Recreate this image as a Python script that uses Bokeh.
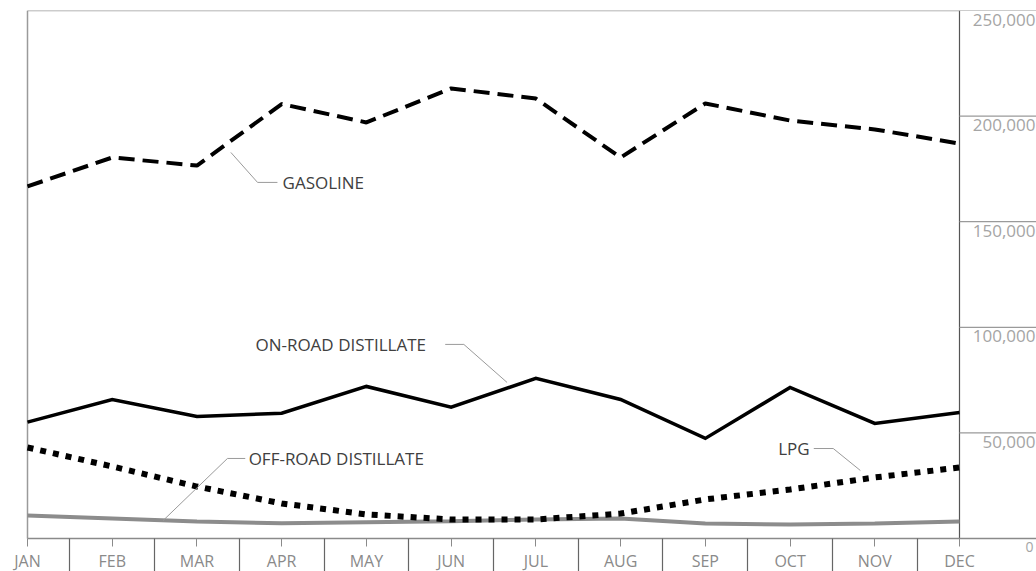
from bokeh.plotting import figure
from bokeh.models import (Range1d, FixedTicker, Label, LabelSet, ColumnDataSource)
from bokeh.core.properties import value
from bokeh.embed import file_html
from bokeh.resources import INLINE

# ---- data ----
months = ["JAN", "FEB", "MAR", "APR", "MAY", "JUN", "JUL", "AUG", "SEP", "OCT", "NOV", "DEC"]
gasoline = [166700, 180400, 176600, 205700, 197000, 213100, 208300, 180400, 206000, 197900, 193700, 187000]
on_road = [55100, 65800, 57800, 59300, 72000, 62200, 75800, 65800, 47400, 71500, 54500, 59700]
lpg = [43100, 34100, 24600, 16600, 11400, 9000, 9000, 11800, 18500, 23200, 28900, 33600]
off_road = [10900, 9500, 8000, 7200, 7700, 8200, 9000, 9500, 7100, 6600, 7100, 8000]
y_ticks = [0, 50000, 100000, 150000, 200000, 250000]
y_tick_labels = ["0", "50,000", "100,000", "150,000", "200,000", "250,000"]

x = list(range(len(months)))
first, last = x[0], x[-1]
unit = 932 / last                  # pixels per month step
x_start = first - 27 / unit        # margin left of JAN
x_end = last + 77 / unit           # right label zone beyond DEC
y_top = y_ticks[-1]
y_bot = -y_top * 33 / 528          # room below zero for the month axis

FONT = "Open Sans"

p = figure(width=1036, height=571, output_backend="svg", toolbar_location=None,
           x_range=Range1d(x_start, x_end), y_range=Range1d(y_bot, y_top),
           y_axis_location=None, min_border_left=0, min_border_right=0,
           min_border_top=10, min_border_bottom=0,
           background_fill_color="white", border_fill_color="white")
p.outline_line_color = None
p.xgrid.grid_line_color = None
p.ygrid.grid_line_color = None

# x axis, drawn at value 0 inside the frame
ax = p.xaxis[0]
ax.fixed_location = 0
ax.bounds = (first, x_end)
ax.ticker = FixedTicker(ticks=x, minor_ticks=[i + 0.5 for i in x[:-1]])
ax.major_label_overrides = {i: m for i, m in zip(x, months)}
ax.axis_line_color = "#8a8a8a"
ax.axis_line_width = 1.5
ax.major_tick_in = 0
ax.major_tick_out = 8
ax.minor_tick_in = 0
ax.minor_tick_out = 34
ax.major_tick_line_color = "#8a8a8a"
ax.minor_tick_line_color = "#666666"
ax.minor_tick_line_width = 1.2
ax.major_label_standoff = -23
ax.major_label_text_font = FONT
ax.major_label_text_font_size = "16px"
ax.major_label_text_color = "#8a8a8a"

# frame lines: left border, DEC divider, top border
p.segment(x0=[first, last], x1=[first, last], y0=[y_ticks[0]] * 2, y1=[y_top] * 2,
          line_color=["#9a9a9a", "#555555"], line_width=[1.5, 1.2])
p.segment(x0=[first], x1=[last], y0=[y_top], y1=[y_top], line_color="#9a9a9a", line_width=1.5)

# right-side value gridlines and labels
p.segment(x0=last, x1=x_end, y0=y_ticks, y1=y_ticks, line_color="#9a9a9a", line_width=1.2)
lab_src = ColumnDataSource(dict(x=[x_end] * (len(y_ticks) - 1), y=y_ticks[1:], t=y_tick_labels[1:]))
p.add_layout(LabelSet(x="x", y="y", text="t", source=lab_src, text_align="right",
                      text_baseline="top", x_offset=-1, y_offset=-3,
                      text_font=value(FONT), text_font_size=value("17px"), text_color="#a5a5a5"))
p.add_layout(Label(x=x_end, y=y_ticks[0], text=y_tick_labels[0], text_align="right",
                   text_baseline="top", x_offset=-3, y_offset=-3,
                   text_font=FONT, text_font_size="14px", text_color="#a5a5a5"))

# series
p.line(x, off_road, line_color="#8c8c8c", line_width=4)
p.line(x, lpg, line_color="black", line_width=6, line_dash="6 7", line_cap="butt")
p.line(x, on_road, line_color="black", line_width=3.5, line_join="miter")
p.line(x, gasoline, line_color="black", line_width=4, line_dash="16 8", line_cap="butt")

# leader lines (annotation positions)
lead = "#9a9a9a"
p.line([2.40, 2.715, 2.95], [182800, 168600, 168600], line_color=lead, line_width=1)
p.line([4.93, 5.15, 5.66], [91900, 91900, 73900], line_color=lead, line_width=1)
p.line([2.57, 2.36, 1.60], [37900, 37900, 8500], line_color=lead, line_width=1)
p.line([9.28, 9.51, 9.83], [42600, 42600, 32200], line_color=lead, line_width=1)

def note(xv, yv, txt):
    p.add_layout(Label(x=xv, y=yv, text=txt, text_baseline="middle", text_align="left",
                       text_font=FONT, text_font_size="17px", text_color="#404040"))

note(3.01, 168600, "GASOLINE")
note(2.69, 91900, "ON-ROAD DISTILLATE")
note(2.61, 37900, "OFF-ROAD DISTILLATE")
note(8.86, 42600, "LPG")

open("out.html", "w").write(file_html(p, INLINE))
